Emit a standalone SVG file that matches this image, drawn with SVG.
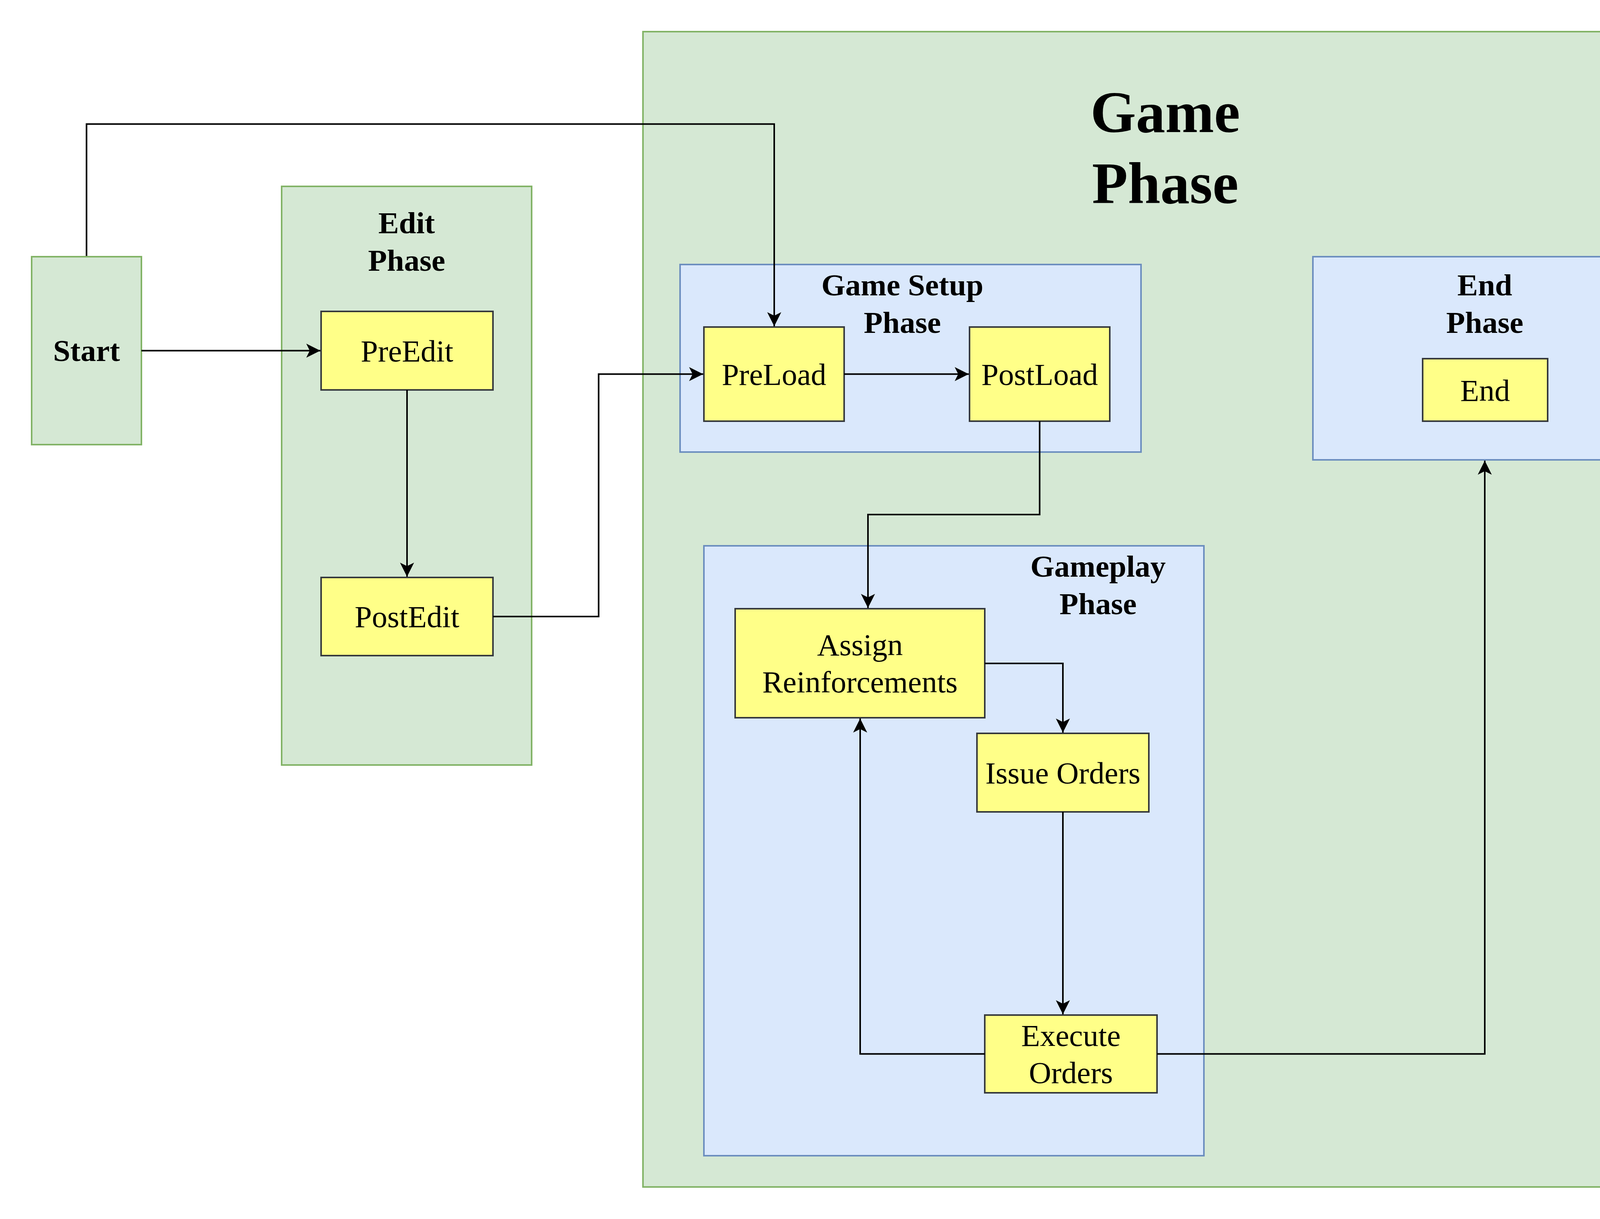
<svg xmlns="http://www.w3.org/2000/svg" width="4404" height="3120" viewBox="0 0 4404 3120">
<style>
.green{fill:#d5e8d4;stroke:#82b366;stroke-width:4}
.blue{fill:#dae8fc;stroke:#6c8ebf;stroke-width:4}
.yellow{fill:#ffff88;stroke:#36393d;stroke-width:4}
.t{font-family:"Liberation Serif","Times New Roman",serif;font-size:79px;fill:#000;text-anchor:middle}
.b{font-weight:bold}
.big{font-size:150px}
.edge{fill:none;stroke:#000;stroke-width:4;marker-end:url(#arr)}
</style>
<defs>
<marker id="arr" markerUnits="userSpaceOnUse" markerWidth="40" markerHeight="40" viewBox="-40 -20 40 40" refX="0" refY="0" orient="auto">
<path d="M0,0 L-36,-18 L-27,0 L-36,18 Z" fill="#000"/>
</marker>
</defs>
<rect width="4404" height="3120" fill="#ffffff"/>
<g id="game-phase">
<rect class="green" x="1646" y="81" width="2674" height="2957"/>
<text class="t b big" x="2983" y="338">Game</text>
<text class="t b big" x="2983" y="520">Phase</text>
</g>
<g id="edit-phase">
<rect class="green" x="721" y="477" width="640" height="1481"/>
<text class="t b" x="1041" y="597">Edit</text>
<text class="t b" x="1041" y="693">Phase</text>
</g>
<g id="start">
<rect class="green" x="81" y="657" width="281" height="481"/>
<text class="t b" x="221.5" y="924">Start</text>
</g>
<g id="game-setup-phase">
<rect class="blue" x="1741" y="677" width="1180" height="480"/>
<text class="t b" x="2310" y="756">Game Setup</text>
<text class="t b" x="2310" y="852">Phase</text>
</g>
<g id="end-phase">
<rect class="blue" x="3361" y="657" width="880" height="520"/>
<text class="t b" x="3801" y="756">End</text>
<text class="t b" x="3801" y="852">Phase</text>
</g>
<g id="gameplay-phase">
<rect class="blue" x="1802" y="1397" width="1280" height="1561"/>
<text class="t b" x="2811" y="1476">Gameplay</text>
<text class="t b" x="2811" y="1572">Phase</text>
</g>
<g id="preedit">
<rect class="yellow" x="822" y="797" width="440" height="201"/>
<text class="t" x="1042" y="925">PreEdit</text>
</g>
<g id="postedit">
<rect class="yellow" x="822" y="1478" width="440" height="200"/>
<text class="t" x="1042" y="1605">PostEdit</text>
</g>
<g id="preload">
<rect class="yellow" x="1802" y="837" width="359" height="241"/>
<text class="t" x="1981.5" y="985">PreLoad</text>
</g>
<g id="postload">
<rect class="yellow" x="2482" y="837" width="359" height="241"/>
<text class="t" x="2661.5" y="985">PostLoad</text>
</g>
<g id="end">
<rect class="yellow" x="3642" y="918" width="320" height="160"/>
<text class="t" x="3802" y="1026">End</text>
</g>
<g id="assign-reinforcements">
<rect class="yellow" x="1882" y="1558" width="639" height="279"/>
<text class="t" x="2201.5" y="1677">Assign</text>
<text class="t" x="2201.5" y="1772">Reinforcements</text>
</g>
<g id="issue-orders">
<rect class="yellow" x="2501" y="1877" width="440" height="201"/>
<text class="t" x="2721" y="2005">Issue Orders</text>
</g>
<g id="execute-orders">
<rect class="yellow" x="2521" y="2598" width="441" height="199"/>
<text class="t" x="2741.5" y="2677">Execute</text>
<text class="t" x="2741.5" y="2772">Orders</text>
</g>
<g id="connectors">
<path class="edge" d="M221.5,655 V317.5 H1982 V835"/>
<path class="edge" d="M362,897.5 H820"/>
<path class="edge" d="M1042,998 V1476"/>
<path class="edge" d="M1262,1578 H1532.5 V957.5 H1800"/>
<path class="edge" d="M2161,957.5 H2480"/>
<path class="edge" d="M2661.5,1078 V1317 H2222 V1556"/>
<path class="edge" d="M2521,1698 H2721 V1875"/>
<path class="edge" d="M2721,2078 V2596"/>
<path class="edge" d="M2521,2697.5 H2202 V1839"/>
<path class="edge" d="M2962,2697.5 H3801 V1179"/>
</g>
</svg>
